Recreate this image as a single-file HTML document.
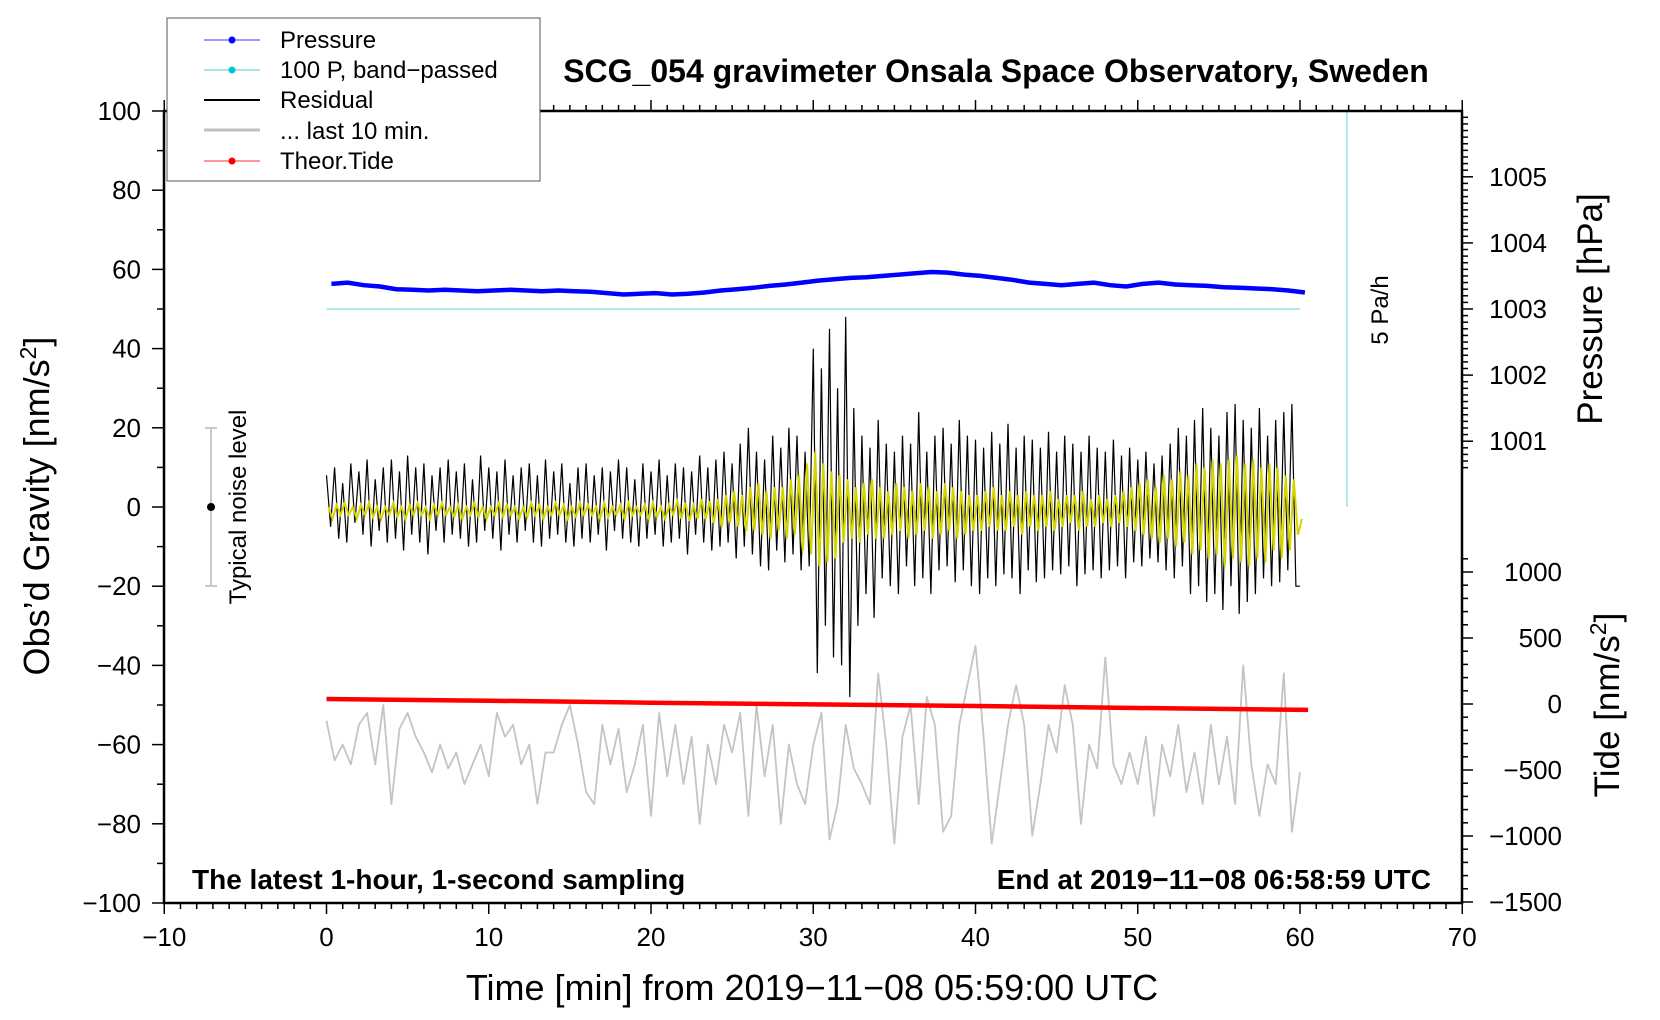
<!DOCTYPE html>
<html><head><meta charset="utf-8">
<style>
html,body{margin:0;padding:0;background:#fff;}
svg{display:block;font-family:"Liberation Sans",sans-serif;}
</style></head>
<body>
<svg id="chart" width="1660" height="1020" viewBox="0 0 1660 1020" xmlns="http://www.w3.org/2000/svg">
<rect x="0" y="0" width="1660" height="1020" fill="#fff"/>
<g id="marks"></g>
<g id="axes"></g>
<text x="996" y="82" font-size="32" font-weight="bold" text-anchor="middle">SCG_054 gravimeter Onsala Space Observatory, Sweden</text>
<text transform="translate(49,506) rotate(-90)" font-size="36" text-anchor="middle">Obs’d Gravity [nm/s<tspan dy="-13" font-size="23">2</tspan><tspan dy="13">]</tspan></text>
<text x="812" y="1000" font-size="36" text-anchor="middle">Time [min] from 2019−11−08 05:59:00 UTC</text>
<text transform="translate(1602,309) rotate(-90)" font-size="35" text-anchor="middle">Pressure [hPa]</text>
<text transform="translate(1619,705) rotate(-90)" font-size="35" text-anchor="middle">Tide [nm/s<tspan dy="-13" font-size="23">2</tspan><tspan dy="13">]</tspan></text>
<text x="192" y="889" font-size="28" font-weight="bold">The latest 1-hour, 1-second sampling</text>
<text x="1431" y="889" font-size="28" font-weight="bold" text-anchor="end">End at 2019−11−08 06:58:59 UTC</text>
<text transform="translate(1388,310) rotate(-90)" font-size="24" text-anchor="middle">5 Pa/h</text>
<g>
<line x1="211" y1="428" x2="211" y2="586" stroke="#c8c8c8" stroke-width="2"/>
<line x1="205" y1="428" x2="217" y2="428" stroke="#c8c8c8" stroke-width="2"/>
<line x1="205" y1="586" x2="217" y2="586" stroke="#c8c8c8" stroke-width="2"/>
<circle cx="211" cy="507" r="4" fill="#000"/>
<text transform="translate(246,507) rotate(-90)" font-size="24" text-anchor="middle">Typical noise level</text>
</g>
<g>
<rect x="167" y="18" width="373" height="163" fill="#fff" stroke="#555" stroke-width="1"/>
<g><line x1="204" y1="40" x2="260" y2="40" stroke="#3333ff" stroke-width="1"/><circle cx="232" cy="40" r="3.5" fill="#0000ff"/><text x="280" y="48" font-size="24">Pressure</text></g>
<g><line x1="204" y1="70" x2="260" y2="70" stroke="#55cccc" stroke-width="1"/><circle cx="232" cy="70" r="3.5" fill="#00cccc"/><text x="280" y="78" font-size="24">100 P, band−passed</text></g>
<g><line x1="204" y1="100" x2="260" y2="100" stroke="#000" stroke-width="2"/><text x="280" y="108" font-size="24">Residual</text></g>
<g><line x1="204" y1="130" x2="260" y2="130" stroke="#c0c0c0" stroke-width="3"/><text x="280" y="139" font-size="24">... last 10 min.</text></g>
<g><line x1="204" y1="161" x2="260" y2="161" stroke="#ff3333" stroke-width="1"/><circle cx="232" cy="161" r="3.5" fill="#ff0000"/><text x="280" y="169" font-size="24">Theor.Tide</text></g>
</g>
</svg>
<script>
// ---- data ----
const residualStep = 0.25;
const residual = [8,-5,10,-8,6,-9,11,-4,9,-7,12,-10,7,-6,10,-9,
12,-8,9,-11,13,-7,10,-9,11,-12,8,-6,10,-9,12,-7,
9,-8,11,-10,7,-9,13,-6,10,-8,9,-11,12,-7,8,-9,
10,-6,11,-9,8,-10,12,-8,9,-7,11,-9,6,-10,10,-8,
11,-9,8,-7,10,-11,9,-6,12,-8,10,-9,7,-10,11,-8,
9,-7,12,-10,8,-9,11,-8,10,-12,9,-7,13,-9,10,-11,
12,-10,14,-9,11,-13,16,-10,20,-12,14,-15,12,-16,18,-11,
15,-14,20,-12,18,-16,14,-15,40,-42,35,-30,45,-38,30,-40,
48,-48,25,-30,18,-22,15,-28,22,-18,16,-20,14,-22,18,-15,
16,-20,24,-18,14,-22,18,-16,20,-15,16,-19,22,-16,18,-20,
17,-22,15,-18,19,-20,16,-17,21,-18,15,-22,18,-16,17,-19,
15,-18,19,-16,14,-17,18,-15,16,-20,14,-17,18,-16,15,-18,
14,-16,17,-15,13,-18,15,-14,12,-15,14,-13,11,-14,13,-16,
16,-18,20,-15,18,-22,22,-20,25,-24,20,-22,18,-26,24,-20,
26,-27,22,-24,20,-22,25,-18,18,-20,22,-19,24,-16,26,-20,-20];
const bandStep = 0.25;
const bandpass = [1,-2,1.5,-1,2,-1,1,-2,1.5,-1,2,-1.5,1,-2,1,-1,
2,-1.5,1,-2,1.5,-1,2,-1,1,-2,1.5,-1,2,-1,1,-1.5,
1.5,-2,1,-1,2,-1.5,1,-2,1,-1,2,-1.5,1.5,-1,1,-2,
1,-1.5,2,-1,1.5,-2,1,-1,2,-1,1.5,-2,1,-1.5,2,-1,
1.5,-1,1,-2,2,-1.5,1,-1,1.5,-2,2,-1,1,-1,1.5,-2,
2,-1.5,1,-2,1.5,-1,2.5,-2,2,-2.5,1.5,-2,3,-2,2.5,-3,
3,-4,4,-3,5,-4,4,-5,6,-5,7,-6,5,-7,6,-5,
6,-7,8,-6,9,-10,12,-11,15,-14,12,-13,10,-12,9,-8,
8,-7,6,-8,7,-6,8,-7,6,-7,5,-6,7,-5,6,-7,
5,-6,7,-5,6,-7,5,-6,7,-5,6,-7,5,-6,4,-5,
4,-5,5,-4,6,-5,4,-5,5,-4,4,-6,5,-4,4,-5,
4,-4,5,-5,3,-4,4,-3,4,-5,5,-4,3,-4,4,-3,
3,-4,4,-3,5,-4,6,-5,7,-6,8,-7,6,-8,9,-7,
8,-9,10,-8,9,-11,12,-10,11,-12,13,-11,12,-14,13,-12,
14,-13,12,-14,13,-12,11,-13,12,-10,11,-12,9,-10,8,-6,-2];
const lastStep = 0.5;
const last10 = [-54,-64,-60,-65,-55,-52,-65,-50,-75,-56,-52,-58,-62,-67,-60,-66,-62,-70,-65,-60,
-68,-52,-58,-55,-65,-60,-75,-62,-62,-55,-50,-60,-72,-75,-55,-65,-56,-72,-65,-55,
-78,-52,-68,-55,-70,-58,-80,-60,-70,-55,-62,-52,-78,-50,-68,-55,-80,-60,-70,-75,
-60,-52,-84,-75,-55,-66,-70,-75,-42,-60,-85,-58,-50,-75,-48,-55,-82,-78,-55,-45,
-35,-58,-85,-70,-55,-45,-55,-83,-70,-55,-62,-45,-55,-80,-60,-66,-38,-65,-70,-62,
-70,-58,-78,-60,-68,-55,-72,-62,-75,-55,-70,-58,-75,-40,-65,-78,-65,-70,-42,-82,-67];
const pressureStep = 1;
const pressure = [1003.38,1003.40,1003.36,1003.34,1003.30,1003.29,1003.28,1003.29,1003.28,1003.27,
1003.28,1003.29,1003.28,1003.27,1003.28,1003.27,1003.26,1003.24,1003.22,1003.23,
1003.24,1003.22,1003.23,1003.25,1003.28,1003.30,1003.32,1003.35,1003.37,1003.40,
1003.43,1003.45,1003.47,1003.48,1003.50,1003.52,1003.54,1003.56,1003.55,1003.52,
1003.50,1003.47,1003.44,1003.40,1003.38,1003.36,1003.38,1003.40,1003.36,1003.34,
1003.38,1003.40,1003.37,1003.36,1003.35,1003.33,1003.32,1003.31,1003.30,1003.28,1003.25];
const tideTimes = [0,10,20,30,40,50,60.5];
const tide = [38,25,10,-3,-15,-30,-45];
const xTicks = [-10,0,10,20,30,40,50,60,70];
const yTicks = [-100,-80,-60,-40,-20,0,20,40,60,80,100];
const pTicks = [1001,1002,1003,1004,1005];
const tTicks = [-1500,-1000,-500,0,500,1000];

// ---- scales ----
const X = m => 326.5 + m * 16.225;
const Y = g => 507 - g * 3.96;
const P = p => 309 - (p - 1003) * 66.1;
const T = t => 704 - t * 0.132;
const NS = 'http://www.w3.org/2000/svg';
const marks = document.getElementById('marks');
const axes = document.getElementById('axes');
function mk(tag, parent, attrs) { const e = document.createElementNS(NS, tag); for (const k in attrs) e.setAttribute(k, attrs[k]); parent.appendChild(e); return e; }
function pts(arr, step, f, x0) { return arr.map((v, i) => X((x0||0) + i * step).toFixed(1) + ',' + f(v).toFixed(1)).join(' '); }

let e = mk('polyline', marks, {points: pts(last10, lastStep, Y), fill: 'none', stroke: '#c4c4c4', 'stroke-width': 1.8, 'stroke-linejoin': 'round'});


e = mk('polyline', marks, {points: tide.map((v, i) => X(tideTimes[i]).toFixed(1) + ',' + T(v).toFixed(1)).join(' '), fill: 'none', stroke: '#ff0000', 'stroke-width': 4.5});


e = mk('polyline', marks, {points: pts(residual, residualStep, Y), fill: 'none', stroke: '#000', 'stroke-width': 1.2});


e = mk('polyline', marks, {points: pts(bandpass, bandStep, v => Y(v - 1), 0.12), fill: 'none', stroke: '#d4d400', 'stroke-width': 2});


e = mk('line', marks, {x1: X(0), y1: Y(50), x2: X(60), y2: Y(50), stroke: '#b0e8e8', 'stroke-width': 2});


e = mk('polyline', marks, {points: pts(pressure, pressureStep, P, 0.3), fill: 'none', stroke: '#0000ff', 'stroke-width': 4.5});


e = mk('line', marks, {x1: 1347, y1: 111, x2: 1347, y2: 507, stroke: '#b0e8e8', 'stroke-width': 2});



// ---- axes ----
e = mk('rect', axes, {x: 164, y: 111, width: 1298, height: 792, fill: 'none', stroke: '#000', 'stroke-width': 2.5});


for (let m = -10; m <= 70; m++) {
  const big = m % 10 === 0;
  mk('line', axes, {x1: X(m), y1: 903, x2: X(m), y2: 903 + (big ? 11 : 6), stroke: '#000', 'stroke-width': 1.5});
  mk('line', axes, {x1: X(m), y1: 111, x2: X(m), y2: 111 - (big ? 11 : 6), stroke: '#000', 'stroke-width': 1.5});
}
xTicks.forEach(v => {
  const t = mk('text', axes, {x: X(v), y: 946, 'font-size': 26, 'text-anchor': 'middle'});
  t.textContent = String(v).replace('-', '−');
  
  
});
for (let g = -100; g <= 100; g += 10) {
  mk('line', axes, {x1: 164, y1: Y(g), x2: 164 - (g % 20 === 0 ? 12 : 7), y2: Y(g), stroke: '#000', 'stroke-width': 1.5});
}
yTicks.forEach(v => {
  const t = mk('text', axes, {x: 141, y: Y(v) + 9, 'font-size': 26, 'text-anchor': 'end'});
  t.textContent = String(v).replace('-', '−');
  
  
});
for (let k = 0; k <= 60; k++) {
  const p = 1000.6 + k * 0.1;
  const y = P(p);
  if (y < 111) continue;
  const big = Math.abs(p - Math.round(p)) < 1e-6;
  mk('line', axes, {x1: 1462, y1: y, x2: 1462 + (big ? 11 : 6), y2: y, stroke: '#000', 'stroke-width': 1.5});
}
pTicks.forEach(v => {
  const t = mk('text', axes, {x: 1547, y: P(v) + 9, 'font-size': 26, 'text-anchor': 'end'});
  t.textContent = v;
  
  
});
for (let t = -1500; t <= 1100; t += 100) {
  mk('line', axes, {x1: 1462, y1: T(t), x2: 1462 + (t % 500 === 0 ? 11 : 6), y2: T(t), stroke: '#000', 'stroke-width': 1.5});
}
tTicks.forEach(v => {
  const t = mk('text', axes, {x: 1562, y: T(v) + 9, 'font-size': 26, 'text-anchor': 'end'});
  t.textContent = String(v).replace('-', '−');
  
  
});
</script>
</body></html>
